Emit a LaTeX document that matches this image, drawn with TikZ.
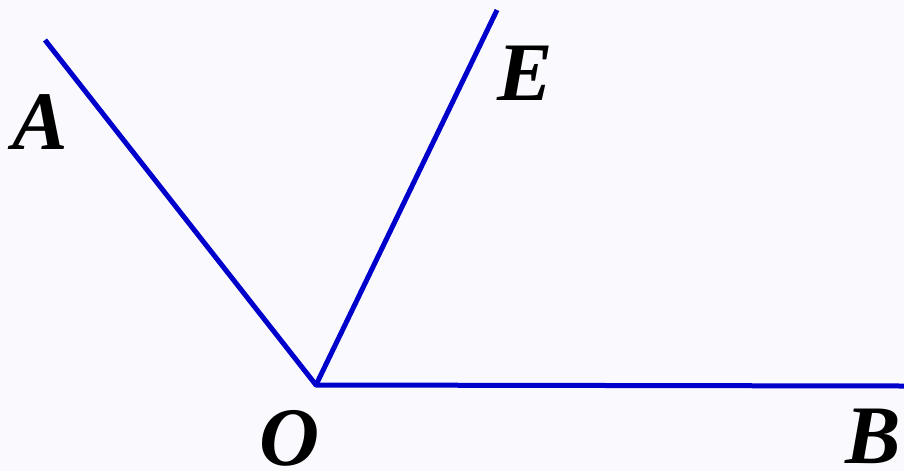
\documentclass[tikz,border=0pt]{standalone}
\usepackage{fontspec}
\setmainfont{Liberation Serif}
\definecolor{raycol}{RGB}{0,0,204}
\definecolor{bgcol}{RGB}{250,249,253}
\begin{document}
\begin{tikzpicture}[x=0.03cm,y=-0.03cm,line join=round,line cap=butt,font=\fontsize{71}{76}\selectfont\bfseries\itshape]
\tikzset{ray/.style={raycol,line width=0.15cm},
  lbl/.style={inner sep=0pt,anchor=base}}
\fill[bgcol] (0,0) rectangle (904,471);
\useasboundingbox (0,0) rectangle (904,471);
\coordinate (O) at (316,385);
\coordinate (A) at (45,40);
\coordinate (E) at (497,10);
\coordinate (B) at (904,386);
\draw[ray] (A)--(O)--(B);
\draw[ray] (O)--(E);
\node[lbl] (lA) at (40,149) {A};
\node[lbl] (lE) at (525,100) {E};
\node[lbl] (lO) at (290,465) {O};
\node[lbl] (lB) at (873,463) {B};
\end{tikzpicture}
\end{document}
